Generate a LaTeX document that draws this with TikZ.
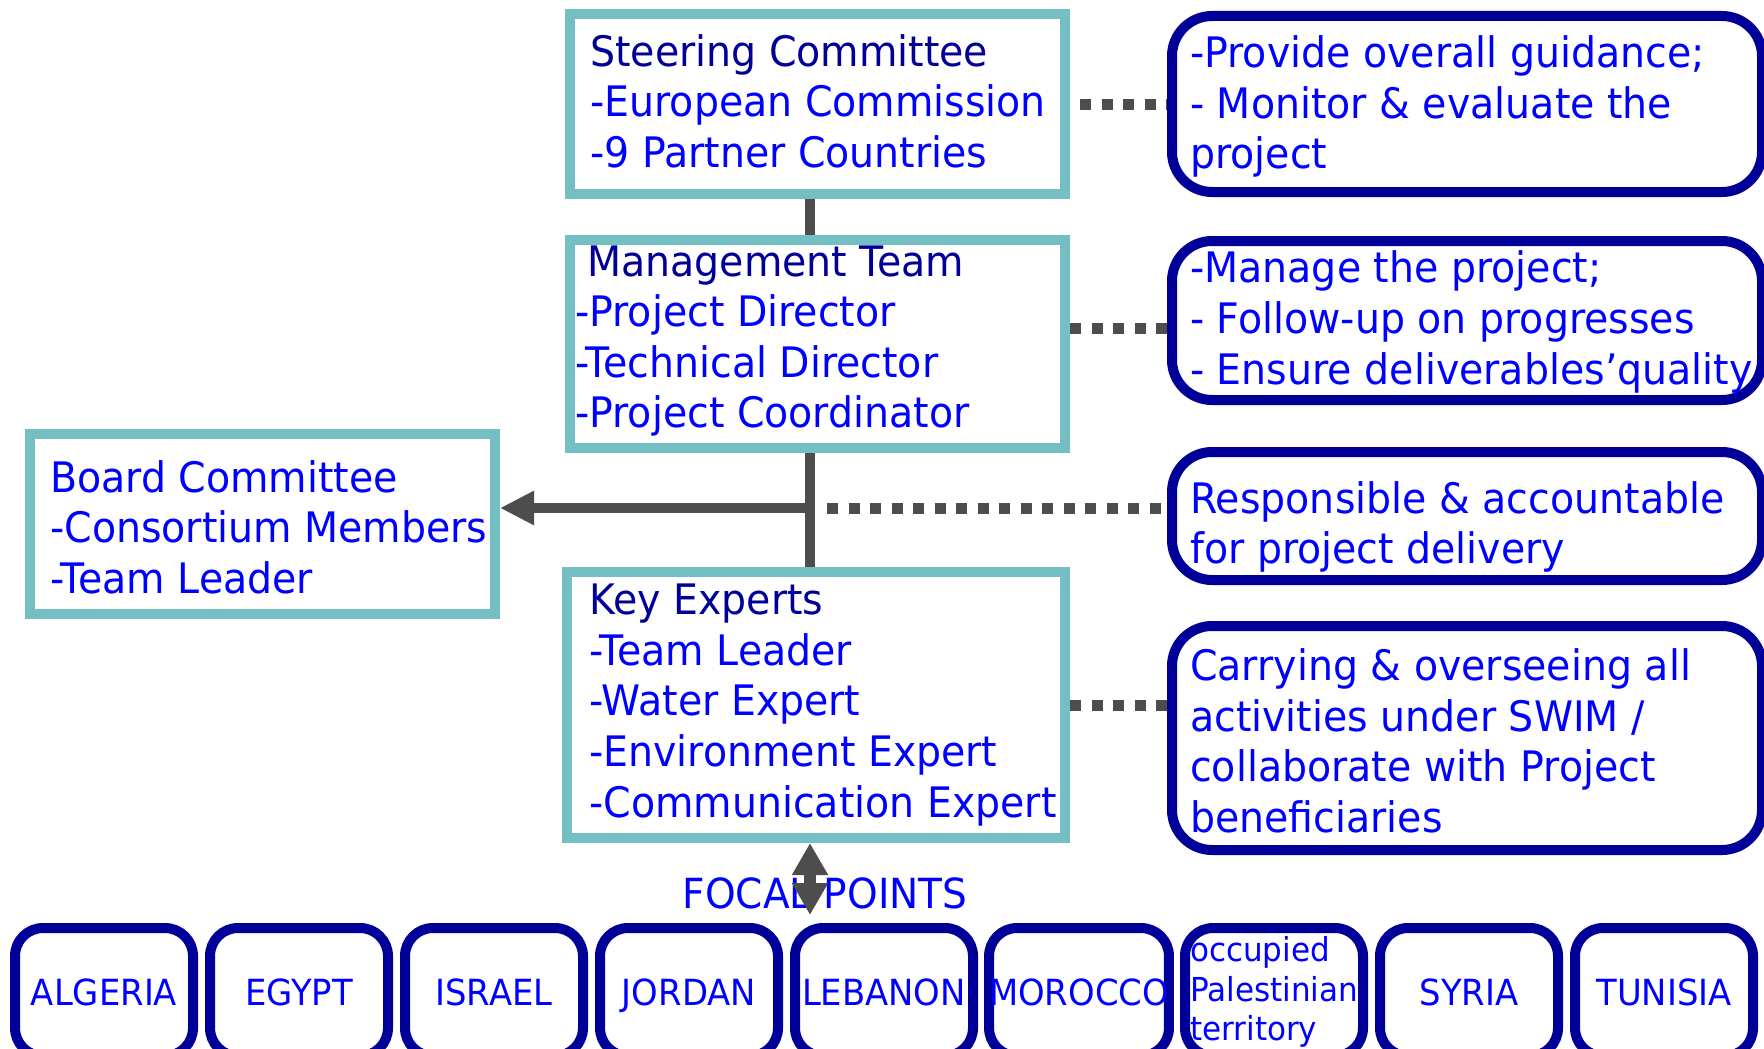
\documentclass[tikz,border=0pt]{standalone}
\usepackage{fontspec}
\setmainfont{DejaVu Sans}[FakeStretch=0.94]
\usetikzlibrary{arrows.meta,positioning}
\definecolor{tealframe}{HTML}{73BFC4}
\definecolor{navy}{HTML}{000099}
\definecolor{textblue}{HTML}{0000FF}
\definecolor{linkgray}{HTML}{4D4D4D}
\newcommand{\bodyfont}{\fontsize{42}{50.6}\selectfont}
\newcommand{\countryfont}{\fontsize{36}{40}\selectfont}
\tikzset{
  unit/.style={draw=tealframe, line width=10pt, fill=white, rectangle, inner sep=0pt},
  role/.style={draw=navy, line width=10pt, fill=white, rectangle, rounded corners=40pt, inner sep=0pt,
    minimum width=590pt},
  country/.style={draw=navy, line width=10pt, fill=white, rounded corners=28pt, inner sep=0pt,
    minimum width=178pt, minimum height=128pt, text=textblue, font=\countryfont,
    text height=26pt, text depth=0pt},
  boxtext/.style={align=left, inner sep=0pt, text=textblue, font=\bodyfont},
  link/.style={draw=linkgray, line width=10pt},
  dotline/.style={draw=linkgray, line width=11pt, dash pattern=on 11pt off 10.5pt},
}
\begin{document}
\begin{tikzpicture}[x=1pt, y=-1pt]
  \useasboundingbox (0,0) rectangle (1764,1049);
  \clip (0,0) rectangle (1764,1049);
  \fill[white] (0,0) rectangle (1764,1049);

  % centre column
  \node[unit, minimum width=495pt, minimum height=180pt] (steering) at (817.5,104) {};
  \node[boxtext, right=25pt of steering.west, yshift=3pt] (steeringtxt)
    {\textcolor{navy}{Steering Committee}\\-European Commission\\-9 Partner Countries};

  \node[unit, minimum width=495pt, minimum height=208pt] (mgmt) at (817.5,344) {};
  \node[boxtext, right=10pt of mgmt.west, yshift=3pt] (mgmttxt)
    {\hspace*{12pt}\textcolor{navy}{Management Team}\\-Project Director\\-Technical Director\\-Project Coordinator};

  \node[unit, minimum width=498pt, minimum height=266pt] (experts) at (816,705) {};
  \node[boxtext, right=27pt of experts.west] (expertstxt)
    {\textcolor{navy}{Key Experts}\\-Team Leader\\-Water Expert\\-Environment Expert\\-Communication Expert};

  \node[unit, minimum width=465pt, minimum height=180pt] (board) at (262.5,524) {};
  \node[boxtext, right=25pt of board.west, yshift=-3pt] (boardtxt)
    {Board Committee\\-Consortium Members\\-Team Leader};

  % roles on the right
  \node[role, minimum height=176pt] (guide) at (1467,104) {};
  \node[boxtext, right=23pt of guide.west, yshift=-2.5pt] (guidetxt)
    {-Provide overall guidance;\\- Monitor \& evaluate the\\project};
  \node[role, minimum height=159pt] (manage) at (1467,320.5) {};
  \node[boxtext, right=23pt of manage.west, yshift=-1.5pt] (managetxt)
    {-Manage the project;\\- Follow-up on progresses\\- Ensure deliverables’quality};
  \node[role, minimum height=128pt] (deliver) at (1467,516) {};
  \node[boxtext, right=23pt of deliver.west, yshift=-11pt] (delivertxt)
    {Responsible \& accountable\\for project delivery};
  \node[role, minimum height=224pt] (carry) at (1467,738) {};
  \node[boxtext, right=23pt of carry.west, yshift=-3pt] (carrytxt)
    {Carrying \& overseeing all\\activities under SWIM /\\collaborate with Project\\beneficiaries};

  % focal points
  \foreach \cname/\clabel [count=\i from 0] in {alg/ALGERIA, egy/EGYPT, isr/ISRAEL, jor/JORDAN,
      leb/LEBANON, mor/MOROCCO, opt/{}, syr/SYRIA, tun/TUNISIA}
    \node[country] (\cname) at (104+195*\i,992) {\clabel};
  \node[boxtext, font=\fontsize{33}{39.5}\selectfont, right=10pt of opt.west] (opttxt)
    {occupied\\Palestinian\\territory};
  \node[text=textblue, font=\fontsize{41.5}{48}\selectfont] (focal) at (825,893) {FOCAL POINTS};

  % connectors
  \coordinate (spine) at (810,0);
  \coordinate (junction) at (810,508);
  \coordinate (focalend) at (810,915);
  \draw[link] (steering.south -| spine) -- (mgmt.north -| spine);
  \draw[link] (mgmt.south -| spine) -- (experts.north -| spine);
  \draw[link, -{Triangle[length=34pt,width=32pt]}] (junction) -- (board.east |- junction);
  \draw[link, line width=12pt, {Triangle[length=32pt,width=34pt]}-{Triangle[length=32pt,width=34pt]}]
    (experts.south -| spine) -- (focalend);

  \draw[dotline] ([xshift=10pt]steering.east) -- (guide.west);
  \draw[dotline] ([yshift=16pt]mgmt.east) -- ([yshift=16pt]mgmt.east -| manage.west);
  \draw[dotline] ([xshift=17pt]junction) -- (junction -| deliver.west);
  \draw[dotline] (experts.east) -- (experts.east -| carry.west);
\end{tikzpicture}
\end{document}
